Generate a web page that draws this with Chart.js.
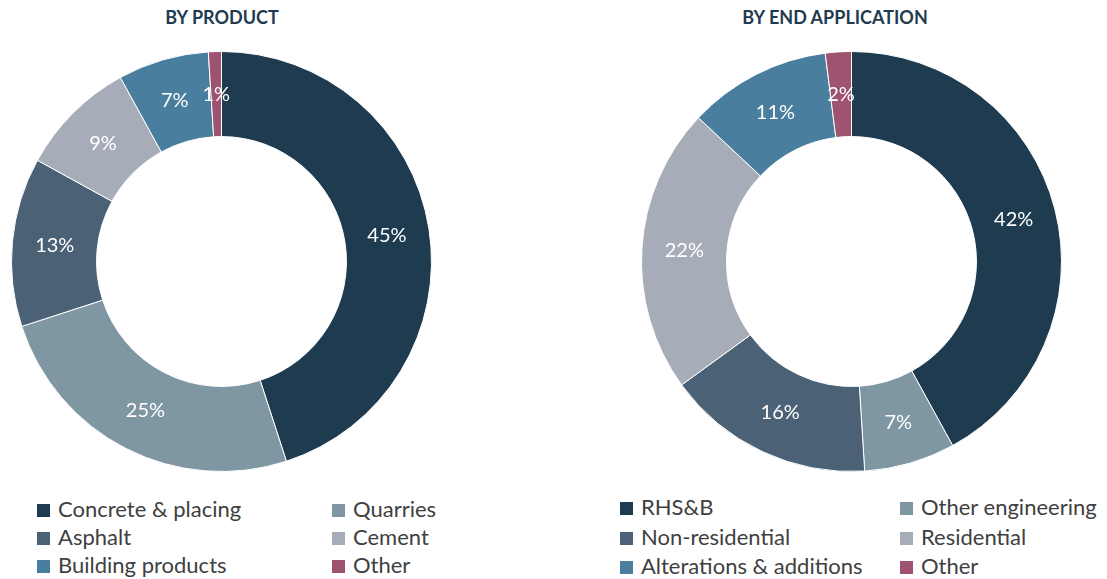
<!DOCTYPE html>
<html>
<head>
<meta charset="utf-8">
<script src="https://cdn.jsdelivr.net/npm/chart.js@4.4.1/dist/chart.umd.min.js"></script>
<style>
  body { margin: 0; background: #fff; font-family: Lato, "Open Sans", sans-serif; }
  #wrap { position: relative; width: 1107px; height: 579px; overflow: hidden; }
  .title { position: absolute; top: 6px; font-weight: bold; font-size: 18px; color: #1F3B50; text-align: center; width: 300px; }
  canvas { position: absolute; }
  .legend { position: absolute; display: grid; grid-template-columns: 295px 200px; row-gap: 0; font-size: 22px; color: #404040; }
  .legend div { height: 28px; line-height: 28px; white-space: nowrap; }
  .legend span.box { display: inline-block; width: 13px; height: 13px; margin-right: 8px; vertical-align: 0px; }
  #endAppLegend div { height: 29.5px; line-height: 29.5px; }
</style>
</head>
<body>
<div id="wrap">
  <div class="title" style="left:72px">BY PRODUCT</div>
  <div class="title" style="left:685px">BY END APPLICATION</div>
  <canvas id="productChart" width="421" height="421" style="left:11px;top:51px"></canvas>
  <canvas id="endAppChart" width="421" height="421" style="left:641px;top:51px"></canvas>
  <div class="legend" id="productLegend" style="left:37px;top:495px"></div>
  <div class="legend" id="endAppLegend" style="left:620px;top:492px;grid-template-columns:280px 220px"></div>
</div>
<script>
// data
const productLabels = ['Concrete & placing', 'Quarries', 'Asphalt', 'Cement', 'Building products', 'Other'];
const productValues = [45, 25, 13, 9, 7, 1];

const endAppLabels = ['RHS&B', 'Other engineering', 'Non-residential', 'Residential', 'Alterations & additions', 'Other'];
const endAppValues = [42, 7, 16, 22, 11, 2];

const sliceColors = ['#1F3B50', '#7F97A2', '#4A6176', '#A7ADB8', '#4A7E9E', '#9E5371'];

// draws the % labels in the middle of each slice
const sliceLabels = {
    id: 'sliceLabels',
    afterDatasetsDraw(chart) {
        const ctx = chart.ctx;
        const meta = chart.getDatasetMeta(0);
        const values = chart.data.datasets[0].data;
        ctx.save();
        ctx.fillStyle = '#ffffff';
        ctx.font = '20px Lato, "Open Sans", sans-serif';
        ctx.textAlign = 'center';
        ctx.textBaseline = 'middle';
        meta.data.forEach((arc, i) => {
            const p = arc.getCenterPoint();
            ctx.fillText(values[i] + '%', p.x, p.y);
        });
        ctx.restore();
    }
};

const makeDonut = (canvasId, labels, values) => {
    const ctx = document.getElementById(canvasId).getContext('2d');
    return new Chart(ctx, {
        type: 'doughnut',
        data: {
            labels,
            datasets: [{
                data: values,
                backgroundColor: sliceColors,
                borderColor: '#ffffff',
                borderWidth: 1
            }]
        },
        options: {
            responsive: false,
            animation: false,
            cutout: '59.5%',
            layout: { padding: 0 },
            plugins: {
                legend: { display: false },
                tooltip: { enabled: false }
            }
        },
        plugins: [sliceLabels]
    });
};

const buildLegend = (elId, labels) => {
    const el = document.getElementById(elId);
    labels.forEach((label, i) => {
        const item = document.createElement('div');
        const box = document.createElement('span');
        box.className = 'box';
        box.style.background = sliceColors[i];
        item.appendChild(box);
        item.appendChild(document.createTextNode(label));
        el.appendChild(item);
    });
};

makeDonut('productChart', productLabels, productValues);
makeDonut('endAppChart', endAppLabels, endAppValues);
buildLegend('productLegend', productLabels);
buildLegend('endAppLegend', endAppLabels);
</script>
</body>
</html>
